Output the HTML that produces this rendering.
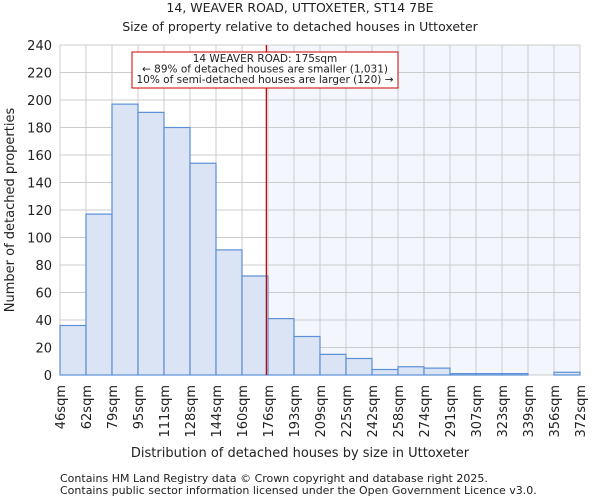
<!DOCTYPE html>
<html><head><meta charset="utf-8"><style>
body{margin:0;background:#fff;font-family:"DejaVu Sans","Liberation Sans",sans-serif;}
svg text{font-family:"DejaVu Sans","Liberation Sans",sans-serif;fill:#222;}
</style></head><body>
<svg id="chart" width="600" height="500">
<text x="300" y="12" text-anchor="middle" font-size="12.5">14, WEAVER ROAD, UTTOXETER, ST14 7BE</text>
<text x="300" y="31" text-anchor="middle" font-size="12.5">Size of property relative to detached houses in Uttoxeter</text>
<g id="plot"></g>
<text x="300" y="457" text-anchor="middle" font-size="13">Distribution of detached houses by size in Uttoxeter</text>
<text transform="translate(14,210) rotate(-90)" text-anchor="middle" font-size="13">Number of detached properties</text>
<text x="60" y="482" font-size="11" fill="#444">Contains HM Land Registry data © Crown copyright and database right 2025.</text>
<text x="60" y="494" font-size="11" fill="#444">Contains public sector information licensed under the Open Government Licence v3.0.</text>
</svg>
<script>
const binLabels=["46sqm","62sqm","79sqm","95sqm","111sqm","128sqm","144sqm","160sqm","176sqm","193sqm","209sqm","225sqm","242sqm","258sqm","274sqm","291sqm","307sqm","323sqm","339sqm","356sqm","372sqm"];
const counts=[36,117,197,191,180,154,91,72,41,28,15,12,4,6,5,1,1,1,0,2];
const yTicks=[0,20,40,60,80,100,120,140,160,180,200,220,240];
const markerValue=175;
const binStarts=[46,62,79,95,111,128,144,160,176,193,209,225,242,258,274,291,307,323,339,356,372];
const X0=60,X1=580,Y0=375,Y1=45,YMAX=240;
const NS="http://www.w3.org/2000/svg";
const g=document.getElementById('plot');
const bw=(X1-X0)/counts.length;
const xs=i=>X0+i*bw;
const ys=v=>Y0-(v/YMAX)*(Y0-Y1);
function xv(v){for(let i=0;i<binStarts.length-1;i++){if(v>=binStarts[i]&&v<=binStarts[i+1])return xs(i)+(v-binStarts[i])/(binStarts[i+1]-binStarts[i])*bw;}return X1;}
function mk(t,a){const e=document.createElementNS(NS,t);for(const k in a)e.setAttribute(k,a[k]);g.appendChild(e);return e;}
const mx=xv(markerValue);
let e=mk('rect',{x:mx,y:Y1,width:X1-mx,height:Y0-Y1,fill:'#f3f6fd'});


yTicks.forEach(t=>{
 const l=mk('line',{x1:X0,x2:X1,y1:ys(t),y2:ys(t),stroke:'#cccccc','stroke-width':1});
 
 
 const tx=mk('text',{x:X0-8,y:ys(t)+5,'text-anchor':'end','font-size':13});
 tx.textContent=t;
 
 
});
binLabels.forEach((s,i)=>{
 const l=mk('line',{x1:xs(i),x2:xs(i),y1:Y1,y2:Y0,stroke:'#cccccc','stroke-width':1});
 
 
 const tx=mk('text',{transform:`translate(${xs(i)+5},${Y0+10}) rotate(-90)`,'text-anchor':'end','font-size':13});
 tx.textContent=s;
 
 
});
counts.forEach((c,i)=>{
 const r=mk('rect',{x:xs(i),y:ys(c),width:bw,height:Y0-ys(c),fill:'#dae4f4',stroke:'#5b8fd8','stroke-width':1.2});
 
 
});
e=mk('line',{x1:mx,x2:mx,y1:Y1,y2:Y0,stroke:'#cc0000','stroke-width':1.3});


e=mk('rect',{x:132,y:52,width:266,height:36,fill:'#fff',stroke:'#cc0000','stroke-width':1});


["14 WEAVER ROAD: 175sqm","← 89% of detached houses are smaller (1,031)","10% of semi-detached houses are larger (120) →"].forEach((s,i)=>{
 const t=mk('text',{x:265,y:62+i*10.5,'text-anchor':'middle','font-size':10.5,textLength:i==0?'':'',});
 t.removeAttribute('textLength');
 t.textContent=s;
 
 
});
</script>
</body></html>
